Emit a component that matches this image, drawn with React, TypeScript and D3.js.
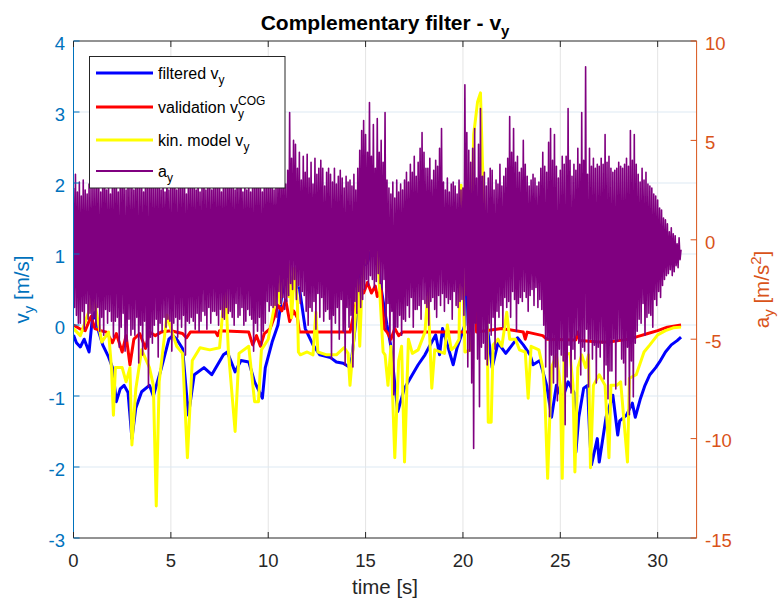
import React, { useEffect, useRef } from "react";
import * as d3 from "d3";

// ---- axis ticks ----
const xTicks = [0, 5, 10, 15, 20, 25, 30];
const vyTicks = [-3, -2, -1, 0, 1, 2, 3, 4];
const ayTicks = [-15, -10, -5, 0, 5, 10];

// ---- filtered v_y  [time s, m/s] ----
const filteredVy: [number, number][] = [
  [0.0, -0.14], [0.15, -0.25], [0.35, -0.31], [0.55, -0.2], [0.8, -0.38], [0.95, 0.05], [1.1, 0.18],
  [1.3, -0.1], [1.5, -0.28], [1.8, -0.45], [2.0, -0.6], [2.2, -1.08], [2.4, -0.9], [2.6, -0.85],
  [2.8, -0.95], [3.0, -1.6], [3.2, -1.17], [3.5, -0.94], [3.9, -0.85], [4.1, -1.0], [4.5, -0.62],
  [4.9, -0.2], [5.1, -0.15], [5.3, -0.2], [5.6, -0.33], [5.9, -1.27], [6.2, -0.7], [6.7, -0.6],
  [7.1, -0.7], [7.7, -0.42], [7.9, -0.38], [8.3, -0.66], [8.6, -0.5], [9.0, -0.52], [9.3, -0.8],
  [9.7, -1.03], [9.85, -0.6], [10.2, -0.24], [10.5, 0.0], [10.7, 0.42], [11.0, 0.8], [11.25, 0.55],
  [11.6, 0.52], [11.9, -0.05], [12.3, -0.28], [12.65, -0.42], [13.2, -0.46], [13.5, -0.52],
  [13.85, -0.54], [14.2, -0.6], [14.3, -0.45], [14.55, 0.18], [14.7, 0.8], [15.1, 0.88], [15.6, 1.4],
  [15.75, 0.6], [16.1, 0.0], [16.3, -0.3], [16.65, -1.22], [17.0, -0.89], [17.4, -0.7], [17.7, -0.56],
  [18.05, -0.42], [18.4, -0.24], [18.6, -0.14], [18.8, -0.42], [18.95, -0.05], [19.2, -0.28],
  [19.5, -0.56], [19.7, -0.32], [20.1, 0.0], [20.2, 0.89], [20.45, 1.27], [20.6, 1.55], [20.75, 1.73],
  [21.0, 1.37], [21.2, 0.1], [21.5, -0.6], [21.8, -0.25], [22.2, -0.4], [22.8, -0.18], [23.1, -0.28],
  [23.45, -0.42], [23.6, -0.56], [23.95, -0.5], [24.3, -0.85], [24.55, -1.3], [24.8, -0.85],
  [25.1, -1.05], [25.4, -0.8], [25.7, -0.95], [25.75, -1.2], [25.8, -1.79], [25.95, -1.3], [26.2, -0.89],
  [26.4, -0.85], [26.5, -1.5], [26.6, -1.97], [26.9, -1.6], [27.0, -1.93], [27.35, -1.3], [27.7, -0.99],
  [27.95, -1.55], [28.05, -1.35], [28.4, -1.27], [28.7, -1.1], [28.85, -1.3], [29.1, -1.05],
  [29.35, -0.85], [29.6, -0.7], [29.9, -0.6], [30.1, -0.52], [30.4, -0.38], [30.7, -0.28], [31.0, -0.22],
  [31.2, -0.17],
];

// ---- validation v_y^COG ----
const validationVy: [number, number][] = [
  [0.0, 0.0], [0.3, -0.05], [0.6, -0.08], [0.9, 0.12], [1.1, -0.05], [1.4, -0.08], [1.7, -0.1],
  [2.0, -0.25], [2.2, -0.12], [2.5, -0.38], [2.7, -0.15], [2.9, -0.56], [3.1, -0.2], [3.4, -0.12],
  [3.7, -0.33], [3.9, -0.1], [4.2, -0.15], [4.5, -0.1], [5.0, -0.08], [5.6, -0.12], [5.8, -0.18],
  [6.0, -0.1], [7.3, -0.1], [7.4, -0.15], [7.5, -0.08], [9.0, -0.1], [9.2, -0.28], [9.4, -0.15],
  [9.6, -0.3], [9.8, -0.12], [10.1, -0.05], [10.3, 0.1], [10.5, 0.28], [10.7, 0.2], [10.9, 0.35],
  [11.1, 0.05], [11.3, 0.2], [11.5, 0.1], [11.6, -0.1], [14.2, -0.1], [14.5, 0.3], [14.7, 0.55],
  [14.9, 0.45], [15.1, 0.6], [15.3, 0.45], [15.5, 0.55], [15.6, 0.4], [15.8, 0.5], [15.95, -0.05],
  [16.1, -0.1], [16.3, -0.2], [16.5, -0.05], [16.7, -0.15], [16.9, -0.1], [20.4, -0.1], [20.6, 0.95],
  [20.7, -0.1], [22.0, -0.05], [23.1, -0.1], [23.2, -0.2], [23.3, -0.1], [24.1, -0.15], [24.3, -0.2],
  [25.8, -0.21], [25.9, -0.1], [26.0, -0.22], [27.0, -0.24], [27.5, -0.24], [28.0, -0.22], [28.5, -0.2],
  [29.0, -0.16], [29.5, -0.12], [30.0, -0.08], [30.5, -0.03], [31.2, 0.0],
];

// ---- kinematic model v_y ----
const kinModelVy: [number, number][] = [
  [0.0, -0.05], [0.35, -0.15], [0.85, 0.24], [1.0, 0.52], [1.1, 0.3], [1.45, -0.24], [1.8, -0.1],
  [1.95, -0.6], [2.05, -1.27], [2.15, -0.6], [2.5, -0.6], [2.7, -0.8], [2.9, -0.6], [3.0, -1.69],
  [3.2, -0.9], [3.5, -0.35], [3.9, -0.6], [4.1, -0.85], [4.25, -2.55], [4.4, -0.8], [4.8, 0.14],
  [5.0, -0.05], [5.3, -0.3], [5.6, -0.4], [5.85, -1.87], [6.1, -0.5], [6.5, -0.32], [7.0, -0.35],
  [7.5, -0.32], [7.8, 0.6], [7.95, -0.35], [8.3, -1.5], [8.5, -0.4], [9.0, -0.3], [9.3, -1.08],
  [9.5, -1.08], [9.65, -0.35], [10.0, -0.2], [10.3, 0.24], [10.5, 0.75], [10.6, 0.3], [10.8, 0.8],
  [11.05, 0.4], [11.1, 0.85], [11.2, 0.1], [11.35, 0.8], [11.5, 0.3], [11.55, -0.38], [11.65, -0.42],
  [12.0, -0.38], [12.3, -0.42], [12.45, 0.18], [12.55, -0.38], [13.0, -0.42], [13.5, -0.42],
  [13.9, -0.32], [14.1, -0.4], [14.2, -0.85], [14.4, -0.2], [14.6, 0.66], [14.7, -0.3], [14.85, 0.8],
  [15.1, 1.03], [15.6, 1.27], [15.7, 0.6], [15.9, -0.38], [16.0, -0.42], [16.15, -0.85], [16.3, -0.3],
  [16.5, -1.87], [16.7, -0.5], [16.85, -0.3], [17.0, -1.93], [17.2, -0.2], [17.4, -0.4], [17.7, -0.35],
  [18.05, -0.1], [18.2, 0.46], [18.4, -0.89], [18.55, -0.35], [19.05, -0.4], [19.2, 0.0], [19.4, -0.35],
  [19.6, -0.3], [19.8, -0.2], [19.9, 1.97], [20.1, -0.38], [20.4, -0.35], [20.5, 1.97], [20.55, 2.68],
  [20.75, 3.14], [20.9, 3.27], [21.0, 2.3], [21.15, 1.27], [21.25, -0.14], [21.3, -1.37], [21.45, -1.37],
  [21.55, -0.28], [21.8, -0.2], [22.0, -0.3], [22.25, 0.18], [22.4, -0.2], [22.7, -0.2], [22.9, -0.35],
  [23.2, -0.38], [23.35, -1.03], [23.5, -0.3], [23.9, -0.35], [24.1, -0.6], [24.2, -0.95], [24.35, -2.16],
  [24.55, -0.6], [24.8, -0.42], [25.0, -0.85], [25.1, -2.16], [25.2, -0.42], [25.5, -0.4], [25.65, -0.85],
  [25.75, -2.07], [25.9, -0.6], [26.1, -0.42], [26.3, -0.6], [26.45, -0.42], [26.55, -2.01], [26.7, -0.85],
  [27.0, -0.7], [27.3, -0.85], [27.5, -1.87], [27.6, -0.85], [27.9, -0.85], [28.1, -0.8], [28.45, -1.93],
  [28.55, -0.75], [28.9, -0.7], [29.3, -0.38], [29.6, -0.28], [30.0, -0.14], [30.4, -0.08], [30.8, -0.04],
  [31.2, -0.03],
];

// ---- a_y [m/s^2], sampled every 0.05 s from t = 0 (one row per second) ----
const aYStep = 0.05;
const aY: number[] = [
  2.6, -3.4, 3.3, -3.8, 2.4, -4.2, 2.9, -4.2, 2.2, -3.6, 3.0, -4.5, 2.5, -3.2, 2.3, -4.0, 2.8, -3.7, 2.6, -4.4,
  3.0, -3.9, 2.7, -4.4, 3.2, -3.4, 2.6, -4.6, 2.4, -3.9, 3.1, -4.8, 3.4, -3.5, 2.5, -4.2, 2.9, -3.6, 2.3, -4.1,
  3.2, -4.9, 2.6, -4.1, 3.5, -3.9, 2.4, -5.4, 2.8, -4.4, 3.6, -3.7, 2.7, -5.6, 2.5, -5.1, 3.3, -4.0, 2.6, -4.8,
  3.1, -4.5, 2.5, -4.8, 3.4, -3.9, 2.9, -6.2, 2.6, -4.3, 3.3, -5.8, 2.4, -4.1, 3.5, -5.4, 2.8, -7.4, 3.0, -4.9,
  3.4, -5.2, 2.6, -4.3, 3.0, -4.0, 2.7, -5.9, 3.6, -4.2, 2.5, -4.6, 3.2, -3.9, 2.4, -4.4, 3.8, -4.0, 2.5, -4.1,
  2.9, -5.6, 2.7, -4.2, 3.5, -3.9, 2.5, -4.9, 2.8, -4.0, 3.2, -4.4, 2.6, -3.8, 3.4, -5.8, 2.3, -4.1, 3.0, -4.2,
  3.0, -3.9, 2.6, -4.1, 3.1, -4.5, 2.5, -3.7, 3.6, -4.6, 2.4, -4.1, 2.8, -3.6, 3.3, -3.8, 2.5, -4.5, 3.1, -3.4,
  2.9, -4.2, 2.5, -3.6, 3.3, -3.6, 2.7, -3.8, 2.8, -4.3, 3.1, -3.5, 2.4, -3.9, 3.0, -4.0, 2.6, -3.4, 2.9, -3.7,
  3.4, -3.6, 2.6, -3.9, 3.0, -4.3, 2.5, -3.2, 3.2, -3.9, 2.7, -3.8, 3.7, -3.4, 2.4, -4.3, 3.1, -4.1, 2.5, -3.5,
  2.9, -3.8, 2.4, -4.0, 3.1, -5.6, 2.6, -4.2, 3.3, -4.6, 2.8, -3.9, 3.0, -5.3, 2.4, -4.6, 3.4, -4.2, 2.6, -3.1,
  3.2, -3.6, 2.7, -3.3, 3.1, -3.4, 2.5, -3.3, 2.9, -3.9, 3.0, -2.6, 3.8, -3.2, 2.6, -2.9, 4.2, -3.5, 2.8, -3.1,
  3.5, -2.8, 6.4, -2.2, 4.1, -2.5, 5.0, -2.0, 4.8, -3.0, 3.6, -2.3, 4.4, -3.2, 3.0, -2.6, 4.2, -2.8, 3.4, -3.6,
  4.3, -4.3, 3.1, -3.4, 3.9, -3.6, 2.8, -3.1, 4.1, -4.5, 3.3, -2.7, 3.6, -3.9, 4.0, -2.9, 3.6, -4.1, 2.7, -3.6,
  3.4, -3.5, 3.6, -4.0, 3.3, -6.0, 2.9, -3.8, 3.6, -4.2, 2.8, -3.4, 3.2, -5.0, 3.5, -3.0, 3.1, -4.6, 2.6, -6.3,
  3.2, -3.4, 2.9, -4.4, 3.0, -3.8, 2.7, -6.4, 3.3, -3.1, 2.5, -3.7, 3.6, -2.6, 4.5, -3.4, 5.5, -3.0, 6.0, -2.5,
  5.3, -2.0, 4.4, -2.3, 6.9, -1.8, 4.2, -2.0, 5.8, -2.4, 3.6, -2.1, 6.1, -1.7, 4.4, -2.2, 5.0, -2.5, 3.9, -2.0,
  6.4, -4.5, 3.0, -3.2, 2.6, -5.2, 2.3, -3.6, 2.9, -7.8, 2.1, -4.4, 3.0, -4.4, 2.4, -3.8, 2.8, -4.8, 2.5, -4.0,
  3.0, -4.1, 3.4, -3.3, 2.9, -3.9, 3.8, -2.9, 3.4, -4.4, 4.2, -3.5, 3.2, -3.5, 3.9, -3.3, 4.6, -4.0, 5.4, -3.0,
  4.4, -3.2, 3.6, -3.4, 3.6, -4.3, 4.1, -3.1, 3.0, -2.9, 3.5, -3.5, 4.0, -3.9, 3.7, -2.8, 4.6, -3.3, 5.6, -2.7,
  2.9, -3.6, 2.5, -2.9, 3.1, -3.2, 2.4, -3.0, 2.8, -4.0, 2.9, -2.6, 2.7, -3.3, 2.3, -3.4, 3.0, -3.1, 2.5, -3.0,
  2.6, -3.8, 7.8, -2.8, 5.4, -6.4, 4.5, -5.6, 3.9, -7.2, 4.6, -10.5, 5.6, -4.2, 3.1, -6.0, 4.8, -8.4, 6.6, -5.4,
  3.2, -5.2, 3.4, -6.0, 2.7, -6.3, 3.1, -4.2, 3.6, -4.8, 3.5, -3.9, 2.5, -5.5, 3.0, -3.6, 2.8, -3.9, 3.8, -3.3,
  2.7, -4.4, 3.2, -2.9, 3.6, -3.4, 4.1, -3.1, 6.2, -3.9, 4.4, -2.6, 5.6, -3.0, 3.9, -4.6, 4.2, -3.2, 3.4, -2.9,
  3.6, -3.1, 5.0, -2.6, 3.8, -2.9, 3.2, -3.6, 2.7, -2.8, 3.0, -2.5, 3.3, -3.3, 3.1, -2.4, 2.7, -3.4, 2.9, -3.0,
  3.6, -3.5, 4.4, -4.3, 3.7, -6.4, 3.4, -5.0, 4.9, -8.9, 5.6, -5.8, 4.0, -7.2, 5.3, -6.4, 3.7, -8.1, 3.1, -5.5,
  3.5, -5.8, 4.2, -6.1, 3.8, -9.3, 4.2, -6.9, 6.6, -5.3, 4.0, -7.7, 3.2, -5.5, 3.8, -6.0, 3.5, -4.8, 4.6, -5.2,
  3.8, -6.8, 6.4, -5.4, 4.0, -5.6, 8.7, -4.5, 3.3, -7.4, 4.6, -5.0, 3.7, -6.0, 4.1, -5.3, 3.6, -7.2, 3.8, -5.4,
  3.7, -5.9, 4.1, -5.2, 3.8, -7.0, 5.3, -6.3, 3.9, -8.0, 4.2, -6.6, 3.6, -6.6, 3.4, -5.0, 3.5, -7.5, 3.6, -5.1,
  3.9, -5.0, 3.7, -6.0, 3.6, -6.2, 3.8, -7.3, 4.1, -5.4, 3.7, -8.8, 5.5, -6.1, 4.0, -7.9, 5.3, -5.2, 3.8, -4.6,
  3.3, -4.0, 2.9, -4.2, 3.6, -3.2, 3.0, -4.8, 3.4, -3.9, 2.8, -3.7, 2.7, -3.8, 2.6, -4.4, 2.3, -3.0, 2.2, -3.3,
  2.0, -2.6, 1.6, -2.9, 1.5, -2.3, 1.1, -2.0, 1.0, -1.8, 0.8, -1.7, 0.4, -1.5, 0.6, -1.8, 0.3, -1.6, 0.2, -1.3,
  -0.2, -1.4, 0.1, -1.0, -0.5,
];

const BLUE_AX = "#0072BD";
const ORANGE_AX = "#D95319";
const DARK = "#262626";

export default function App() {
  const ref = useRef<SVGSVGElement>(null);

  useEffect(() => {
    const svg = d3.select(ref.current!);
    svg.selectAll("*").remove();
    const W = 779, H = 606;
    const L = 73.5, R = 696.6, T = 41, B = 538;
    const x = d3.scaleLinear().domain([0, 32]).range([L, R]);
    const yL = d3.scaleLinear().domain([-3, 4]).range([B, T]);
    const yR = d3.scaleLinear().domain([-15, 10]).range([B, T]);

    svg.append("rect").attr("width", W).attr("height", H).attr("fill", "#fff");

    const defs = svg.append("defs");
    defs.append("clipPath").attr("id", "plotclip").append("rect")
      .attr("x", L).attr("y", T).attr("width", R - L).attr("height", B - T);

    // grid
    const gx = svg.append("g");
    gx.selectAll("line").data(xTicks.filter((d) => d > 0)).join("line")
      .attr("x1", (d) => x(d)).attr("x2", (d) => x(d)).attr("y1", T).attr("y2", B)
      .attr("stroke", "#e4e4e4").attr("stroke-width", 1);
    const gy = svg.append("g");
    gy.selectAll("line").data(vyTicks.filter((d) => d > -3 && d < 4)).join("line")
      .attr("x1", L).attr("x2", R).attr("y1", (d) => yL(d)).attr("y2", (d) => yL(d))
      .attr("stroke", "#dde9f3").attr("stroke-width", 1);

    const plot = svg.append("g").attr("clip-path", "url(#plotclip)");
    const lineL = d3.line<[number, number]>().x((d) => x(d[0])).y((d) => yL(d[1]));
    plot.append("path").datum(filteredVy).attr("d", lineL).attr("fill", "none")
      .attr("stroke", "#0000FF").attr("stroke-width", 3).attr("stroke-linejoin", "round");
    plot.append("path").datum(validationVy).attr("d", lineL).attr("fill", "none")
      .attr("stroke", "#FF0000").attr("stroke-width", 3).attr("stroke-linejoin", "round");
    plot.append("path").datum(kinModelVy).attr("d", lineL).attr("fill", "none")
      .attr("stroke", "#FFFF00").attr("stroke-width", 3).attr("stroke-linejoin", "round");
    const lineR = d3.line<number>().x((_, i) => x(i * aYStep)).y((d) => yR(d));
    plot.append("path").datum(aY).attr("d", lineR).attr("fill", "none")
      .attr("stroke", "#800080").attr("stroke-width", 1.6).attr("stroke-linejoin", "round");

    // box
    svg.append("line").attr("x1", L).attr("x2", R).attr("y1", T).attr("y2", T).attr("stroke", DARK).attr("stroke-width", 1);
    svg.append("line").attr("x1", L).attr("x2", R).attr("y1", B).attr("y2", B).attr("stroke", DARK).attr("stroke-width", 1);
    svg.append("line").attr("x1", L).attr("x2", L).attr("y1", T).attr("y2", B).attr("stroke", BLUE_AX).attr("stroke-width", 1);
    svg.append("line").attr("x1", R).attr("x2", R).attr("y1", T).attr("y2", B).attr("stroke", ORANGE_AX).attr("stroke-width", 1);

    // ticks
    const tk = 6;
    const xt = svg.append("g");
    xt.selectAll("line.b").data(xTicks).join("line").attr("class", "b")
      .attr("x1", (d) => x(d)).attr("x2", (d) => x(d)).attr("y1", B).attr("y2", B - tk).attr("stroke", DARK);
    xt.selectAll("line.t").data(xTicks).join("line").attr("class", "t")
      .attr("x1", (d) => x(d)).attr("x2", (d) => x(d)).attr("y1", T).attr("y2", T + tk).attr("stroke", DARK);
    xt.selectAll("text").data(xTicks).join("text")
      .attr("x", (d) => x(d)).attr("y", 566.5).attr("text-anchor", "middle")
      .attr("font-size", 18.5).attr("fill", DARK).text((d) => String(d));

    const lt = svg.append("g");
    lt.selectAll("line").data(vyTicks).join("line")
      .attr("x1", L).attr("x2", L + tk).attr("y1", (d) => yL(d)).attr("y2", (d) => yL(d)).attr("stroke", BLUE_AX);
    lt.selectAll("text").data(vyTicks).join("text")
      .attr("x", 65).attr("y", (d) => yL(d) + 8.8).attr("text-anchor", "end")
      .attr("font-size", 18.5).attr("fill", BLUE_AX).text((d) => String(d));

    const rt = svg.append("g");
    rt.selectAll("line").data(ayTicks).join("line")
      .attr("x1", R).attr("x2", R - tk).attr("y1", (d) => yR(d)).attr("y2", (d) => yR(d)).attr("stroke", ORANGE_AX);
    rt.selectAll("text").data(ayTicks).join("text")
      .attr("x", 705).attr("y", (d) => yR(d) + 8.8).attr("text-anchor", "start")
      .attr("font-size", 18.5).attr("fill", ORANGE_AX).text((d) => String(d));

    // title
    const title = svg.append("text").attr("x", (L + R) / 2).attr("y", 29.5).attr("text-anchor", "middle")
      .attr("font-size", 21).attr("font-weight", "bold").attr("fill", "#000");
    title.append("tspan").text("Complementary filter - v");
    title.append("tspan").attr("dy", 6).attr("font-size", 15).text("y");

    // x label
    svg.append("text").attr("x", (L + R) / 2).attr("y", 594).attr("text-anchor", "middle")
      .attr("font-size", 20.5).attr("fill", DARK).text("time [s]");

    // left y label
    const cy = (T + B) / 2;
    const yl = svg.append("text").attr("transform", `translate(28.5,${cy}) rotate(-90)`)
      .attr("text-anchor", "middle").attr("font-size", 20.5).attr("fill", BLUE_AX);
    yl.append("tspan").text("v");
    yl.append("tspan").attr("dy", 5).attr("font-size", 15).text("y");
    yl.append("tspan").attr("dy", -5).text(" [m/s]");

    // right y label
    const yr = svg.append("text").attr("transform", `translate(769,${cy}) rotate(-90)`)
      .attr("text-anchor", "middle").attr("font-size", 20.5).attr("fill", ORANGE_AX);
    yr.append("tspan").text("a");
    yr.append("tspan").attr("dy", 5).attr("font-size", 15).text("y");
    yr.append("tspan").attr("dy", -5).text(" [m/s");
    yr.append("tspan").attr("dy", -8).attr("font-size", 15).text("2");
    yr.append("tspan").attr("dy", 8).text("]");

    // legend
    const lg = svg.append("g");
    lg.append("rect").attr("x", 89.5).attr("y", 56.5).attr("width", 195.5).attr("height", 131.5)
      .attr("fill", "#fff").attr("stroke", DARK).attr("stroke-width", 1);
    const items = [
      { color: "#0000FF", w: 3, y: 73 },
      { color: "#FF0000", w: 3, y: 107 },
      { color: "#FFFF00", w: 3, y: 140 },
      { color: "#800080", w: 2, y: 171 },
    ];
    items.forEach((it) => {
      lg.append("line").attr("x1", 96).attr("x2", 153).attr("y1", it.y).attr("y2", it.y)
        .attr("stroke", it.color).attr("stroke-width", it.w);
    });
    const lt0 = lg.append("text").attr("x", 158).attr("y", 79).attr("font-size", 16).attr("fill", "#000");
    lt0.append("tspan").text("filtered v");
    lt0.append("tspan").attr("dy", 5).attr("font-size", 12).text("y");
    const lt1 = lg.append("text").attr("x", 158).attr("y", 113).attr("font-size", 16).attr("fill", "#000");
    lt1.append("tspan").text("validation v");
    lt1.append("tspan").attr("dy", 5).attr("font-size", 12).text("y");
    lt1.append("tspan").attr("dx", -6).attr("dy", -13).attr("font-size", 12).text("COG");
    const lt2 = lg.append("text").attr("x", 158).attr("y", 146).attr("font-size", 16).attr("fill", "#000");
    lt2.append("tspan").text("kin. model v");
    lt2.append("tspan").attr("dy", 5).attr("font-size", 12).text("y");
    const lt3 = lg.append("text").attr("x", 158).attr("y", 177).attr("font-size", 16).attr("fill", "#000");
    lt3.append("tspan").text("a");
    lt3.append("tspan").attr("dy", 5).attr("font-size", 12).text("y");
  }, []);

  return (
    <svg
      ref={ref}
      width={779}
      height={606}
      style={{ position: "absolute", left: 0, top: 0, fontFamily: "'Liberation Sans', Arial, Helvetica, sans-serif" }}
    />
  );
}
